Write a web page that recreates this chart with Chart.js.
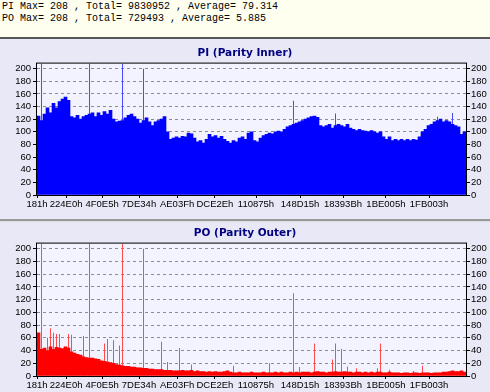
<!DOCTYPE html>
<html>
<head>
<meta charset="utf-8">
<script src="https://cdn.jsdelivr.net/npm/chart.js@4.4.0/dist/chart.umd.min.js"></script>
<style>
    body { margin: 0; width: 490px; height: 392px; overflow: hidden; background: #e8e8f6; }
    #hdr { height: 37px; box-sizing: border-box; padding: 1px 0 0 2px; background: #fffff0; color: #000;
           font: 10px "Liberation Mono", monospace; line-height: 12px; white-space: pre; }
    .line1 { height: 2px; background: #555; }
    .line2 { height: 1px; background: #999; border-bottom: 1px solid #ddd; border-top: 1px solid #999; }
    canvas { display: block; }
</style>
</head>
<body>
<div id="hdr"></div>
<div class="line1"></div>
<canvas id="pi-chart" width="490" height="180"></canvas>
<div class="line2"></div>
<canvas id="po-chart" width="490" height="170"></canvas>
<script>
// summary line values
const piStats = [208, 9830952, '79.314'];
const poStats = [208, 729493, '5.885'];

// x axis: sample index positions where the LBA labels sit
const xTickPos = [0, 9.7, 21.7, 34, 46.7, 59.3, 73, 87.7, 102, 116.3, 130.7];
const xTickLabels = ['181h', '224E0h', '4F0E5h', '7DE34h', 'AE03Fh', 'DCE2Eh', '110875h', '148D15h', '18393Bh', '1BE005h', '1FB003h'];

// PI errors per sample
const piValues = [
    125, 118, 128, 138, 130, 145, 138, 148, 152, 155,
    150, 124, 122, 126, 120, 124, 126, 128, 130, 124,
    130, 126, 132, 128, 134, 120, 116, 117, 118, 122,
    126, 128, 124, 120, 114, 118, 122, 116, 110, 116,
    118, 120, 124, 100, 88, 90, 92, 90, 93, 92,
    98, 97, 90, 84, 86, 82, 88, 96, 92, 94,
    90, 93, 88, 85, 82, 86, 84, 90, 92, 88,
    98, 100, 86, 84, 90, 94, 96, 98, 97, 100,
    101, 100, 104, 108, 110, 112, 114, 116, 118, 120,
    122, 124, 125, 123, 110, 108, 110, 112, 106, 110,
    112, 110, 108, 112, 106, 104, 102, 104, 102, 101,
    100, 102, 100, 98, 100, 92, 88, 92, 86, 88,
    86, 88, 86, 88, 86, 88, 87, 92, 100, 104,
    110, 112, 116, 118, 120, 116, 118, 116, 112, 110,
    108, 96, 100
];
const piSpikeIdx = [1, 17, 28, 35, 85, 99, 133, 138];
const piSpikeVal = [208, 208, 208, 200, 149, 129, 124, 130];

// PO errors per sample
const poValues = [
    68, 42, 44, 40, 46, 42, 45, 44, 43, 46,
    44, 38, 36, 34, 33, 30, 29, 28, 28, 27,
    26, 24, 23, 22, 21, 20, 18, 17, 16, 15,
    15, 14, 14, 13, 13, 12, 12, 11, 11, 10,
    10, 10, 9, 9, 9, 8, 8, 8, 9, 8,
    8, 9, 7, 8, 7, 7, 6, 7, 6, 7,
    6, 6, 7, 8, 6, 5, 5, 6, 5, 5,
    5, 6, 5, 5, 5, 6, 5, 5, 5, 6,
    5, 6, 5, 5, 6, 5, 6, 5, 6, 6,
    6, 5, 6, 7, 6, 6, 5, 6, 6, 7,
    6, 6, 7, 6, 6, 5, 6, 6, 5, 6,
    5, 6, 5, 6, 6, 5, 5, 6, 5, 5,
    5, 4, 5, 5, 4, 5, 5, 4, 5, 5,
    5, 4, 5, 5, 5, 6, 6, 7, 8, 7,
    7, 8, 6
];
const poSpikeIdx = [1, 3, 4, 5, 6, 7, 10, 11, 15, 17, 22, 23, 25, 27, 28, 35, 41, 43, 47, 51, 65, 77, 85, 87, 92, 98, 99, 101, 103, 106, 113, 114, 117, 125, 128];
const poSpikeVal = [208, 60, 75, 68, 66, 66, 66, 65, 63, 208, 51, 58, 56, 48, 208, 200, 54, 22, 44, 18, 16, 20, 130, 14, 51, 26, 51, 43, 15, 12, 12, 51, 10, 8, 16];

document.getElementById('hdr').textContent =
    `PI Max= ${piStats[0]} , Total= ${piStats[1]} , Average= ${piStats[2]}\n` +
    `PO Max= ${poStats[0]} , Total= ${poStats[1]} , Average= ${poStats[2]}`;

const tickFont = { family: 'Liberation Sans', size: 9.5 };

const plotFrame = {
    id: 'plotFrame',
    beforeDraw(chart) {
        const { ctx, chartArea: a } = chart;
        ctx.save();
        ctx.fillStyle = '#f3f3ff';
        ctx.fillRect(a.left, a.top, a.right - a.left, a.bottom - a.top);
        ctx.restore();
    },
    afterDraw(chart) {
        const { ctx, chartArea: a } = chart;
        ctx.save();
        ctx.strokeStyle = '#000';
        ctx.lineWidth = 1;
        ctx.strokeRect(a.left - 0.5, a.top - 0.5, a.right - a.left + 1, a.bottom - a.top + 1);
        ctx.restore();
    }
};

function createChart(canvasId, title, values, spikeIdx, spikeVal, color, spikeColor, titlePad, xHeight) {
    const ctx = document.getElementById(canvasId).getContext('2d');
    return new Chart(ctx, {
        type: 'bar',
        data: {
            datasets: [{
                data: values.map((v, i) => ({ x: i + 0.5, y: v })),
                backgroundColor: color,
                borderWidth: 0,
                barPercentage: 1,
                categoryPercentage: 1,
                grouped: false
            }, {
                data: spikeIdx.map((idx, i) => ({ x: idx + 0.5, y: spikeVal[i] })),
                backgroundColor: spikeColor,
                borderWidth: 0,
                barPercentage: 0.3334,
                categoryPercentage: 1,
                grouped: false
            }]
        },
        options: {
            responsive: false,
            animation: false,
            devicePixelRatio: 1,
            layout: { padding: 0 },
            plugins: {
                legend: { display: false },
                tooltip: { enabled: false },
                title: {
                    display: true,
                    text: title,
                    color: '#000080',
                    font: { family: 'DejaVu Sans', size: 10.5, weight: 'bold' },
                    padding: titlePad
                }
            },
            scales: {
                x: {
                    type: 'linear',
                    min: 0,
                    max: values.length,
                    offset: false,
                    afterBuildTicks: s => { s.ticks = xTickPos.map(v => ({ value: v })); },
                    afterFit: s => { s.height = xHeight; },
                    ticks: {
                        autoSkip: false,
                        maxRotation: 0,
                        color: '#000',
                        font: tickFont,
                        padding: 1,
                        callback: (v, i) => xTickLabels[i]
                    },
                    grid: { drawOnChartArea: false, offset: false, tickLength: 3, tickColor: '#000' },
                    border: { display: false }
                },
                y: {
                    position: 'left',
                    min: 0,
                    max: 208,
                    afterFit: s => { s.width = 37; },
                    ticks: { stepSize: 20, autoSkip: false, includeBounds: false, color: '#000', font: tickFont, padding: 2 },
                    grid: { color: '#8c8c8c', tickColor: '#000', tickLength: 4 },
                    border: { display: false, dash: [3, 3] }
                },
                y2: {
                    position: 'right',
                    min: 0,
                    max: 208,
                    afterFit: s => { s.width = 24; },
                    ticks: { stepSize: 20, autoSkip: false, includeBounds: false, color: '#000', font: tickFont, padding: 1 },
                    grid: { drawOnChartArea: false, tickColor: '#000', tickLength: 4 },
                    border: { display: false }
                }
            }
        },
        plugins: [plotFrame]
    });
}

createChart('pi-chart', 'PI (Parity Inner)', piValues, piSpikeIdx, piSpikeVal, '#0000ff', '#4a4aff', { top: 8, bottom: 4 }, 24);
createChart('po-chart', 'PO (Parity Outer)', poValues, poSpikeIdx, poSpikeVal, '#ff0000', '#ff4a4a', { top: 5, bottom: 4 }, 16);
</script>
</body>
</html>
